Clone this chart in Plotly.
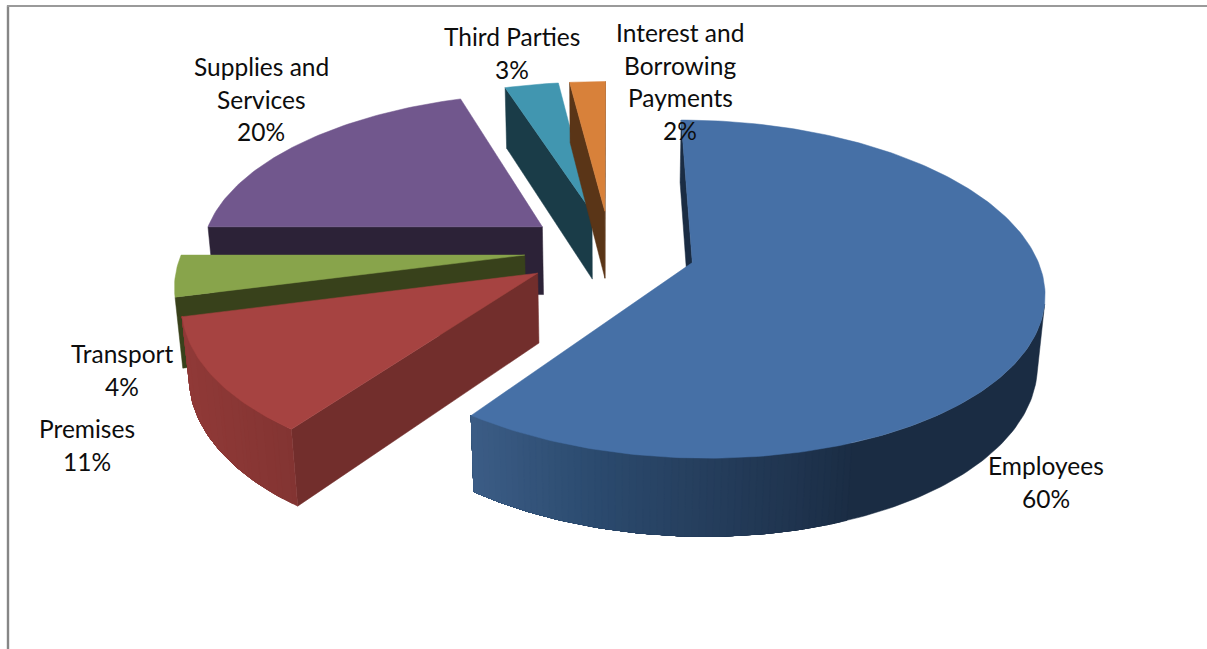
import math
import textwrap
import plotly.graph_objects as go

# Expense breakdown, in percent, clockwise from twelve o'clock
categories = ["Employees", "Premises", "Transport", "Supplies and Services",
              "Third Parties", "Interest and Borrowing Payments"]
shares = [60, 11, 4, 20, 3, 2]

# Top-face and flat side colours per slice
top_colors = ["#4670a6", "#a64341", "#88a44b", "#71578d", "#4196b0", "#d8813a"]
side_colors = ["#1a2c43", "#722e2c", "#38411b", "#2c2237", "#1a3c48", "#5a3517"]

# Rim shading by screen x for the two front slices
rim_ramps = {
    0: [(477, "#3b5c85"), (600, "#2b4a6e"), (700, "#263f5e"), (800, "#1f344f"),
        (860, "#1a2c43"), (1050, "#1a2c43")],
    1: [(185, "#903937"), (302, "#823432")],
}

# Label centres: x and the y of the first line
label_spots = [(1046, 465.5), (87, 428.5), (122, 353.5), (261, 66.5), (512, 36.5), (680, 32.5)]
LINE_STEP = 32.7

# Projection of the tilted, exploded pie onto the page
CX, CY = 610, 250
SCALE_X, SCALE_Y = 342, 161
FORESHORTEN = 0.155
THICKNESS = 70
THICK_SHRINK = 0.0173
EXPLODE = 0.25


def project(x, y, z=0.0):
    w = 1 + FORESHORTEN * y + THICK_SHRINK * z
    return CX + SCALE_X * x / w, CY - (SCALE_Y * y - THICKNESS * z) / w


def hex_mix(a, b, t):
    ca = [int(a[i:i + 2], 16) for i in (1, 3, 5)]
    cb = [int(b[i:i + 2], 16) for i in (1, 3, 5)]
    return "#%02x%02x%02x" % tuple(round(p + (q - p) * t) for p, q in zip(ca, cb))


def ramp_color(ramp, sx):
    if sx <= ramp[0][0]:
        return ramp[0][1]
    for (x0, c0), (x1, c1) in zip(ramp, ramp[1:]):
        if sx <= x1:
            return hex_mix(c0, c1, (sx - x0) / (x1 - x0))
    return ramp[-1][1]


def polygon(points, color):
    xs = [p[0] for p in points] + [points[0][0]]
    ys = [p[1] for p in points] + [points[0][1]]
    return go.Scatter(x=xs, y=ys, mode="lines", fill="toself", fillcolor=color,
                      line=dict(color=color, width=0.5), hoverinfo="skip")


def turn(p, q):
    """Screen-space turn of the wall below the edge p-q: negative means it runs leftwards."""
    a, b, c = project(*p), project(*q), project(*p, 1)
    return (b[0] - a[0]) * (c[1] - a[1]) - (b[1] - a[1]) * (c[0] - a[0])


def slice_traces(index, start, end):
    mid = math.radians((start + end) / 2)
    ox, oy = EXPLODE * math.sin(mid), EXPLODE * math.cos(mid)
    steps = max(8, int(end - start))
    angles = [math.radians(start + (end - start) * i / steps) for i in range(steps + 1)]
    rim = [(ox + math.sin(a), oy + math.cos(a)) for a in angles]
    apex = (ox, oy)
    traces = []

    # Straight walls, only where they face the viewer
    if turn(apex, rim[0]) < 0:
        traces.append(polygon([project(*apex), project(*rim[0]),
                               project(*rim[0], 1), project(*apex, 1)], side_colors[index]))
    if turn(apex, rim[-1]) > 0:
        traces.append(polygon([project(*apex), project(*rim[-1]),
                               project(*rim[-1], 1), project(*apex, 1)], side_colors[index]))

    # Curved wall: the run of rim facets on the near side
    near = [i for i in range(steps) if turn(rim[i], rim[i + 1]) < 0]
    if near:
        first, final = near[0], near[-1] + 1
        if index in rim_ramps:
            # Each band runs to the end and is overpainted by the next, so no seams show
            ramp = rim_ramps[index]
            last = None
            for i in range(first, final):
                color = ramp_color(ramp, project(*rim[i])[0])
                if color == last:
                    continue
                last = color
                upper = [project(*p) for p in rim[i:final + 1]]
                lower = [project(*p, 1) for p in reversed(rim[i:final + 1])]
                traces.append(polygon(upper + lower, color))
        else:
            upper = [project(*p) for p in rim[first:final + 1]]
            lower = [project(*p, 1) for p in reversed(rim[first:final + 1])]
            traces.append(polygon(upper + lower, side_colors[index]))

    # Top face
    traces.append(polygon([project(*apex)] + [project(*p) for p in rim], top_colors[index]))
    return traces


# Cumulative angle range of every slice
total = sum(shares)
ranges = []
running = 0
for share in shares:
    ranges.append((running * 360 / total, (running + share) * 360 / total))
    running += share

fig = go.Figure()
for i in (4, 5, 3, 2, 1, 0):  # back to front
    fig.add_traces(slice_traces(i, *ranges[i]))

annotations = []
for name, share, (lx, ly) in zip(categories, shares, label_spots):
    lines = textwrap.wrap(name, 13) + [f"{share}%"]
    for n, line in enumerate(lines):
        annotations.append(dict(x=lx, y=ly + n * LINE_STEP, xref="x", yref="y", text=line,
                                showarrow=False, xanchor="center", yanchor="middle",
                                font=dict(family="Lato", size=24.5, color="#0d0d0d")))

frame = [
    dict(type="line", x0=8, x1=8, y0=5.5, y1=649, xref="x", yref="y",
         line=dict(color="#868686", width=2.4)),
    dict(type="line", x0=7, x1=1207, y0=6, y1=6, xref="x", yref="y",
         line=dict(color="#9a9a9a", width=2.2)),
]

fig.update_layout(
    width=1207, height=649, autosize=False, showlegend=False,
    margin=dict(l=0, r=0, t=0, b=0),
    paper_bgcolor="white", plot_bgcolor="white",
    xaxis=dict(range=[0, 1207], visible=False, fixedrange=True),
    yaxis=dict(range=[649, 0], visible=False, fixedrange=True),
    annotations=annotations, shapes=frame,
)
fig.write_html("out.html")
